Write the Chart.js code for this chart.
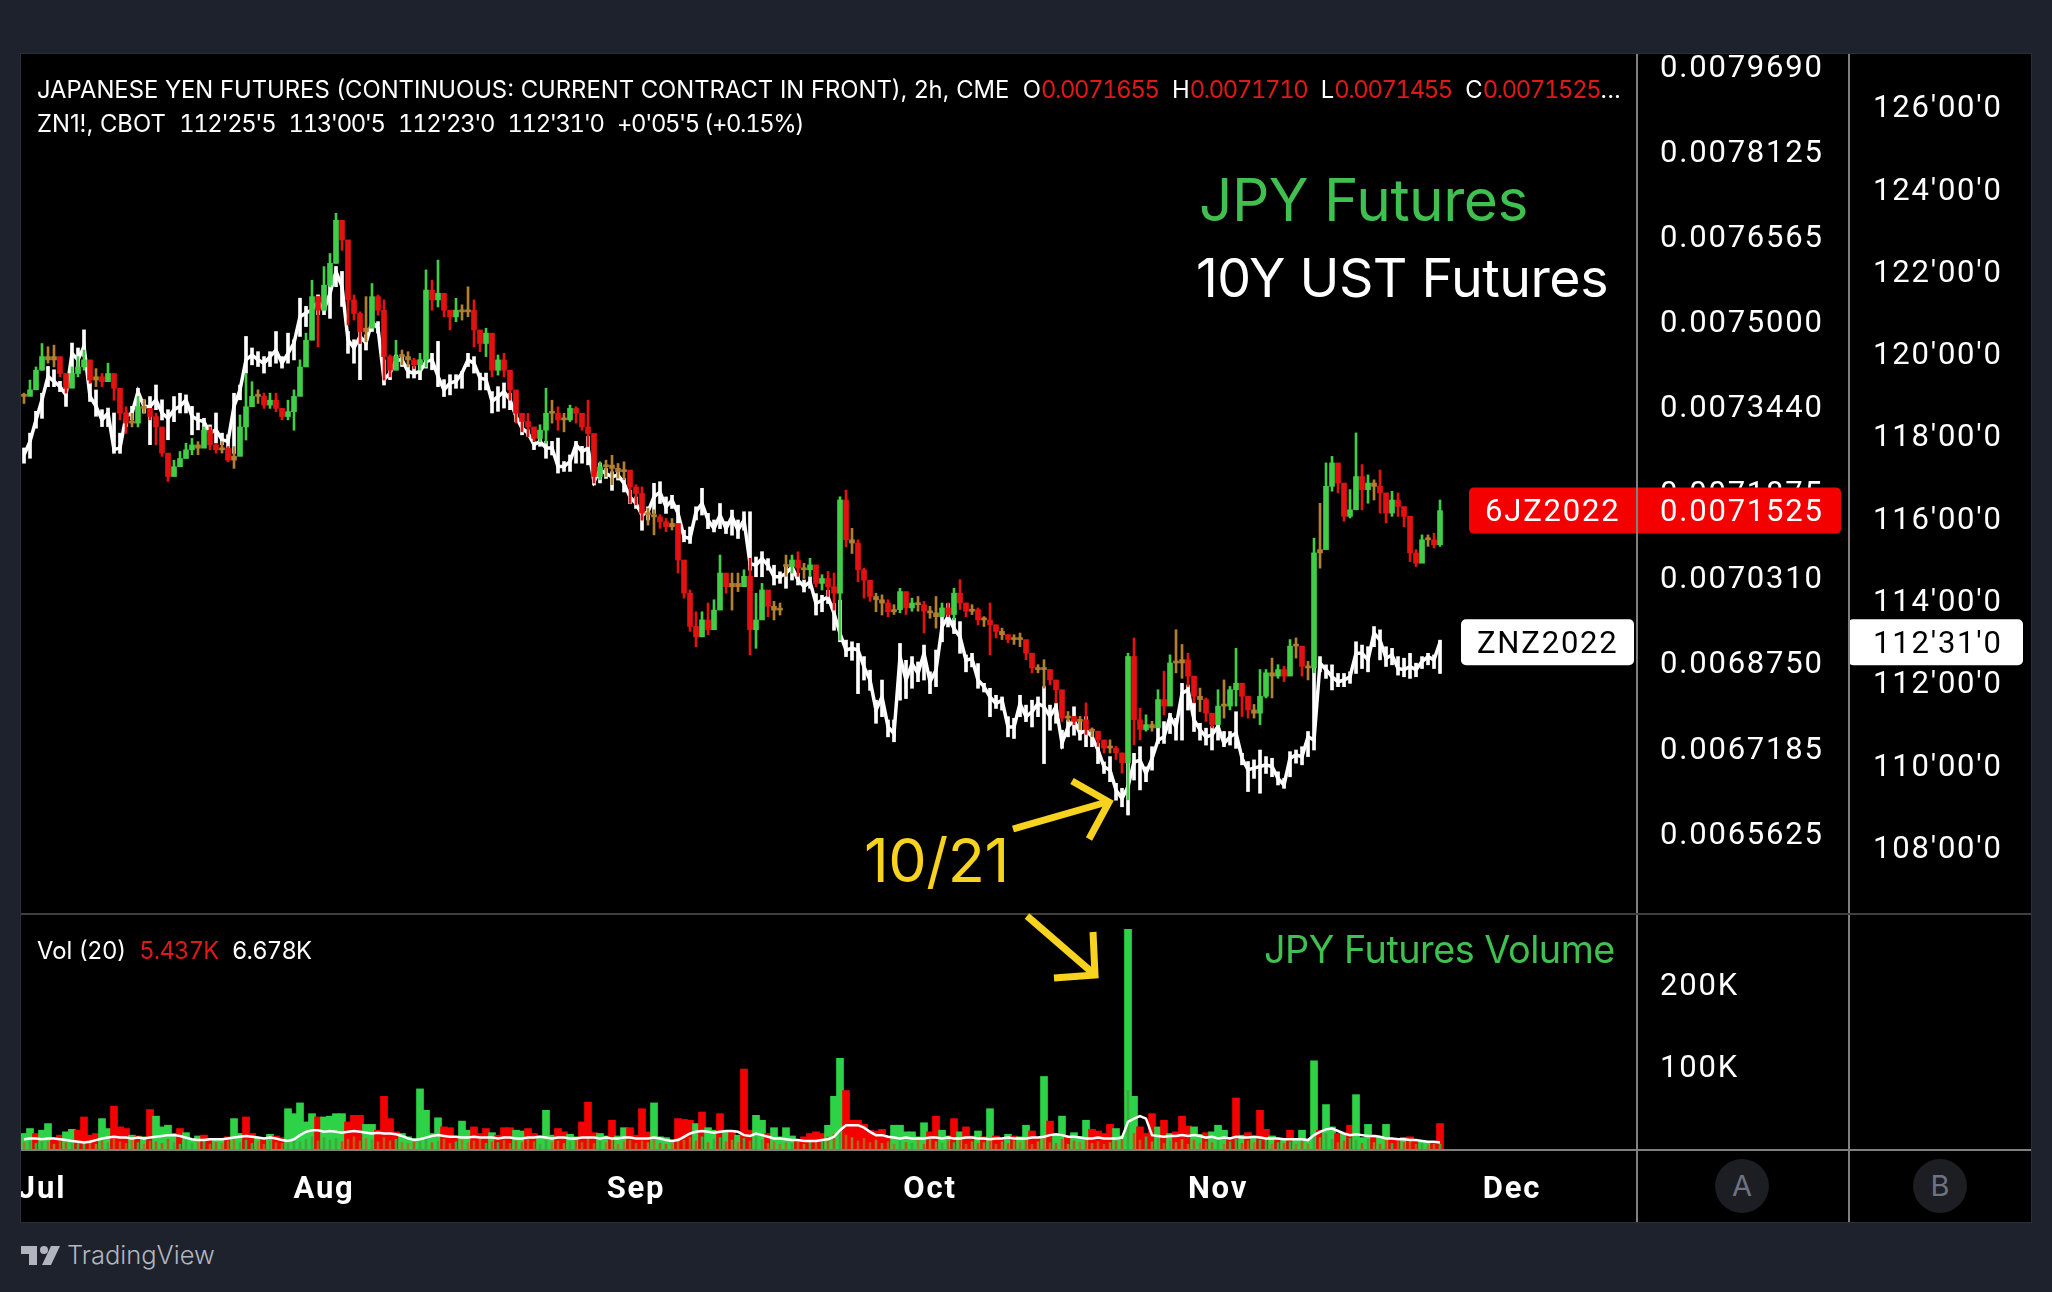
<!DOCTYPE html>
<html>
<head>
<meta charset="utf-8">
<title>JPY Futures vs 10Y UST Futures</title>
<script src="https://cdn.jsdelivr.net/npm/chart.js@4"></script>
<style>
html,body{margin:0;padding:0;background:#1e222d;width:2052px;height:1292px;overflow:hidden;font-family:Inter,Roboto,sans-serif;}
#panel{position:absolute;left:21px;top:54px;width:2010px;height:1168px;background:#000;outline:1px solid #2a2e39;}
canvas{position:absolute;left:21px;display:block;}
#mainChart{top:54px;}
#volChart{top:913px;}
.t{position:absolute;white-space:pre;line-height:1;color:#fff;transform:translateY(-50%);}
.n{font-variant-numeric:tabular-nums;letter-spacing:-1.35px;}
.v{font-variant-numeric:tabular-nums;letter-spacing:-0.8px;}
.r{color:#e01818;}
.big{letter-spacing:-0.5px;}
.g{color:#3fc04f;}
.circle{position:absolute;width:54px;height:54px;border-radius:50%;background:#1c1e24;color:#6f7280;font-size:29px;line-height:54px;text-align:center;}
svg{position:absolute;left:0;top:0;}
</style>
</head>
<body>
<div id="panel"></div>
<canvas id="mainChart" width="2010" height="859"></canvas>
<canvas id="volChart" width="2010" height="309"></canvas>

<div class="t" style="left:37px;top:90px;font-size:23.8px;">JAPANESE YEN FUTURES (CONTINUOUS: CURRENT CONTRACT IN FRONT), 2h, CME  O<span class="r n">0.0071655</span>  H<span class="r n">0.0071710</span>  L<span class="r n">0.0071455</span>  C<span class="r n">0.0071525</span>...</div>
<div class="t" style="left:37px;top:124px;font-size:23.8px;">ZN1!, CBOT  <span class="n">112'25'5</span>  <span class="n">113'00'5</span>  <span class="n">112'23'0</span>  <span class="n">112'31'0</span>  <span class="n">+0'05'5 (+0.15%)</span></div>
<div class="t big g" style="left:1199px;top:200px;font-size:58.6px;">JPY Futures</div>
<div class="t big" style="left:1196px;top:278px;font-size:53.7px;">10Y UST Futures</div>
<div class="t big" style="left:864px;top:860px;font-size:61px;color:#f7d21e;">10/21</div>
<div class="t" style="left:37px;top:951px;font-size:23.8px;">Vol (20)  <span class="r v">5.437K</span>  <span class="v">6.678K</span></div>
<div class="t big g" style="left:1264px;top:950px;font-size:37.8px;">JPY Futures Volume</div>
<div class="t" style="left:67px;top:1255px;font-size:25.5px;color:#b2b5be;font-weight:300;">TradingView</div>
<div class="circle" style="left:1715px;top:1159px;">A</div>
<div class="circle" style="left:1913px;top:1159px;">B</div>

<svg width="2052" height="1292" fill="none">
  <g stroke="#f7d21e" stroke-width="7">
    <path d="M1013 829L1107 802"/>
    <path d="M1072 781L1109 802L1089 839"/>
    <path d="M1027 916L1094 974"/>
    <path d="M1093 932L1095 975L1054 978"/>
  </g>
  <g fill="#b2b5be" transform="translate(21,1246)">
    <path d="M0 0H16V19H8V8H0Z"/>
    <circle cx="23" cy="4" r="4"/>
    <path d="M30 0H39L30 19H21Z"/>
  </g>
</svg>

<script>
// JPY futures, in millionths of a dollar per yen, one value per bar
const jpyClose = [
7362,7374,7410,7435,7429,7435,7404,7377,7404,7416,7429,7392,7398,7389,7404,7377,7331,7313,7313,7343,
7340,7325,7306,7258,7215,7233,7248,7264,7273,7267,7300,7273,7264,7267,7245,7252,7306,7343,7362,7362,
7346,7355,7340,7325,7334,7362,7416,7465,7545,7520,7566,7606,7685,7649,7539,7514,7481,7487,7545,7520,
7435,7410,7435,7435,7429,7420,7429,7557,7539,7551,7520,7508,7520,7517,7520,7484,7459,7478,7410,7429,
7410,7374,7331,7316,7306,7285,7300,7331,7331,7319,7319,7340,7331,7306,7294,7215,7233,7236,7230,7224,
7227,7196,7184,7148,7145,7141,7132,7123,7129,7062,7001,6940,6921,6952,6934,6970,7038,7013,7019,7013,
7032,6934,6952,7007,6977,6970,6970,7050,7062,7047,7044,7053,7019,7028,7013,7001,7172,7099,7093,7044,
7025,6995,6989,6983,6967,6971,7004,6974,6983,6980,6968,6965,6958,6974,6962,7001,6983,6968,6971,6952,
6952,6943,6931,6925,6916,6919,6916,6891,6864,6861,6861,6842,6824,6772,6775,6766,6769,6751,6748,6732,
6717,6717,6708,6690,6885,6769,6751,6760,6754,6806,6794,6873,6873,6879,6849,6812,6806,6781,6760,6794,
6794,6824,6836,6812,6787,6781,6812,6855,6849,6861,6849,6904,6904,6867,6864,7075,7081,7197,7240,7203,
7142,7154,7215,7191,7203,7197,7185,7148,7172,7160,7142,7075,7056,7099,7099,7090,7152.5];
const jpyHigh = [
7368,7392,7416,7459,7453,7456,7429,7398,7416,7435,7447,7416,7413,7404,7423,7395,7368,7343,7331,7362,
7355,7337,7331,7300,7252,7245,7261,7276,7285,7279,7306,7306,7276,7279,7270,7270,7328,7404,7389,7374,
7368,7368,7368,7340,7355,7374,7429,7478,7575,7545,7600,7624,7698,7679,7630,7548,7517,7545,7569,7548,
7539,7438,7465,7447,7444,7432,7441,7594,7575,7612,7548,7520,7542,7530,7563,7539,7481,7487,7441,7438,
7441,7410,7362,7328,7331,7300,7310,7377,7355,7343,7331,7346,7343,7331,7355,7282,7242,7245,7254,7239,
7242,7215,7200,7196,7157,7154,7145,7138,7138,7120,7038,7007,6967,6967,6983,6989,7071,7032,7038,7038,
7044,7065,7001,7019,7001,6986,6983,7071,7071,7077,7056,7065,7050,7035,7041,7038,7178,7190,7120,7099,
7047,7019,7001,6998,6989,6980,7010,6998,6992,6995,6986,6977,6995,6983,6983,7010,7026,6983,6980,6974,
6958,6983,6943,6937,6925,6925,6928,6913,6891,6870,6879,6861,6839,6806,6784,6775,6775,6800,6754,6748,
6726,6732,6720,6708,6891,6919,6790,6778,6766,6824,6858,6888,6934,6907,6891,6839,6827,6809,6778,6824,
6842,6830,6900,6833,6812,6797,6861,6861,6882,6870,6867,6916,6919,6904,6876,7102,7166,7240,7252,7227,
7191,7191,7295,7237,7218,7209,7227,7178,7188,7185,7157,7111,7081,7108,7108,7111,7172];
const jpyLow = [
7349,7368,7398,7410,7423,7416,7398,7368,7383,7398,7410,7386,7380,7380,7392,7355,7319,7294,7306,7306,
7331,7319,7273,7252,7206,7218,7233,7252,7255,7255,7270,7264,7258,7258,7242,7230,7276,7282,7349,7349,
7340,7340,7334,7319,7319,7300,7392,7450,7511,7453,7520,7563,7606,7630,7493,7502,7459,7462,7514,7511,
7392,7398,7416,7420,7416,7413,7410,7416,7520,7526,7508,7484,7499,7502,7508,7453,7444,7435,7398,7401,
7398,7355,7313,7297,7288,7279,7279,7276,7313,7300,7297,7316,7313,7300,7270,7203,7209,7215,7200,7212,
7209,7166,7163,7135,7126,7108,7120,7114,7117,7038,6992,6931,6903,6921,6925,6943,7007,7001,6970,7004,
7019,6888,6900,6970,6958,6952,6961,7032,7038,7032,7028,7032,7013,7007,6995,6970,6915,7086,7074,7022,
6992,6986,6967,6961,6958,6962,6965,6962,6968,6968,6928,6955,6937,6958,6958,6952,6971,6958,6962,6943,
6940,6888,6919,6916,6910,6907,6903,6879,6855,6855,6827,6833,6800,6766,6766,6760,6751,6742,6738,6720,
6708,6708,6696,6671,6622,6723,6732,6748,6748,6778,6778,6861,6855,6845,6830,6800,6784,6766,6754,6769,
6772,6787,6794,6775,6772,6772,6760,6809,6809,6845,6839,6873,6882,6849,6842,6855,7047,7087,7188,7185,
7133,7139,7172,7154,7166,7172,7148,7130,7142,7142,7123,7059,7050,7062,7087,7084,7087];
const jpyGapBars = [127];

// 10Y note futures, in hundredths of a point, one value per bar
const znClose = [
11752,11785,11837,11886,11943,11931,11918,11898,11999,11983,12016,11894,11870,11837,11854,11765,11769,11846,11854,11906,
11870,11870,11886,11854,11841,11862,11870,11886,11846,11837,11833,11805,11813,11789,11785,11870,11910,11983,11995,11983,
11975,11991,12007,11975,11999,12024,12088,12097,12105,12125,12105,12145,12198,12161,12032,12012,12040,12024,12076,12060,
11935,11951,11983,11983,11955,11951,11955,11979,11983,11943,11910,11927,11931,11951,11983,11975,11939,11935,11882,11894,
11906,11886,11846,11817,11805,11777,11785,11769,11769,11724,11724,11736,11777,11760,11769,11688,11716,11707,11699,11703,
11683,11650,11634,11606,11614,11650,11662,11626,11642,11610,11553,11549,11614,11634,11594,11573,11606,11573,11602,11569,
11594,11488,11484,11500,11484,11456,11456,11464,11480,11448,11432,11444,11391,11399,11407,11367,11318,11278,11282,11278,
11237,11205,11132,11164,11091,11075,11262,11205,11245,11221,11270,11201,11229,11334,11359,11330,11310,11253,11257,11205,
11189,11164,11148,11156,11091,11091,11148,11116,11128,11148,11140,11116,11140,11051,11091,11108,11075,11083,11067,11035,
10994,10986,10938,10917,10946,11006,11010,10978,11014,11059,11067,11116,11091,11173,11181,11108,11084,11067,11072,11092,
11051,11067,11076,11015,10987,10991,10995,10999,10995,10966,10950,11015,11023,11019,11067,11059,11246,11230,11213,11201,
11205,11213,11270,11270,11254,11319,11302,11258,11266,11233,11230,11238,11230,11250,11262,11254,11297];
const znHigh = [
11769,11805,11858,11902,11967,11959,11931,11914,12024,12012,12056,11927,11910,11862,11866,11854,11805,11854,11870,11914,
11886,11894,11922,11886,11862,11894,11902,11898,11870,11854,11841,11825,11854,11805,11801,11902,11922,12040,12012,12003,
11991,12003,12052,11991,12048,12032,12133,12113,12129,12141,12121,12165,12210,12198,12052,12032,12052,12044,12093,12076,
11983,11967,11995,11995,11971,11967,11983,11995,11999,12028,11935,11947,11947,11955,11999,11991,11951,11951,11906,11918,
11927,11902,11870,11837,11813,11785,11793,11785,11785,11793,11736,11752,11785,11773,11797,11724,11732,11719,11711,11715,
11695,11666,11650,11626,11626,11683,11687,11650,11654,11630,11569,11577,11626,11671,11610,11594,11634,11590,11618,11594,
11614,11614,11504,11517,11500,11484,11468,11484,11488,11464,11448,11456,11415,11411,11423,11391,11399,11302,11298,11294,
11262,11229,11156,11205,11108,11108,11294,11253,11262,11249,11290,11225,11278,11359,11391,11355,11347,11266,11270,11245,
11197,11185,11168,11164,11116,11112,11168,11144,11156,11164,11189,11144,11148,11083,11108,11140,11108,11116,11083,11051,
11006,11019,10954,10942,11010,11027,11043,10994,11043,11091,11104,11124,11112,11197,11193,11149,11100,11088,11092,11124,
11080,11080,11128,11027,11007,11011,11035,11019,11015,10982,10966,11031,11035,11043,11080,11262,11262,11242,11242,11221,
11221,11225,11298,11290,11286,11335,11327,11286,11282,11262,11258,11270,11246,11262,11270,11266,11302];
const znLow = [
11732,11744,11817,11841,11918,11918,11906,11870,11935,11959,11991,11882,11846,11821,11821,11756,11756,11821,11837,11846,
11854,11777,11862,11837,11789,11833,11854,11854,11801,11813,11805,11789,11781,11777,11769,11756,11886,11951,11971,11967,
11951,11967,11975,11963,11975,11983,12040,12064,12068,12093,12093,12084,12161,12113,11999,11975,11935,12007,12052,12048,
11922,11935,11959,11967,11939,11939,11935,11963,11959,11918,11894,11898,11914,11914,11967,11951,11910,11910,11854,11858,
11866,11862,11833,11801,11797,11765,11773,11744,11752,11708,11712,11712,11732,11732,11728,11679,11684,11695,11666,11691,
11662,11634,11622,11569,11594,11610,11634,11610,11622,11569,11541,11537,11594,11606,11573,11565,11573,11561,11557,11549,
11569,11472,11456,11456,11472,11436,11440,11428,11448,11436,11419,11428,11363,11371,11391,11326,11298,11262,11253,11172,
11205,11180,11100,11116,11067,11055,11156,11160,11185,11201,11205,11172,11189,11298,11334,11318,11270,11225,11237,11185,
11176,11116,11136,11132,11067,11063,11116,11104,11091,11116,11002,11083,11100,11039,11067,11071,11059,11043,11043,11002,
10978,10958,10913,10897,10877,10962,10938,10958,10986,11051,11051,11075,11059,11059,11132,11080,11059,11047,11035,11059,
11043,11047,11039,10999,10934,10966,10930,10978,10970,10950,10942,10970,11003,10999,11019,11035,11225,11209,11181,11189,
11189,11197,11221,11233,11225,11286,11254,11238,11242,11217,11213,11209,11213,11233,11242,11233,11221];

// volume in thousands
const volK = [
20,26,20,24,32,12,18,22,25,24,40,18,20,38,26,53,28,26,18,17,
16,49,41,28,30,20,26,21,12,17,18,14,12,13,16,38,20,40,20,15,
14,19,17,15,50,44,57,34,44,40,40,41,44,44,34,42,42,31,31,24,
65,38,22,20,16,14,74,48,20,39,28,27,14,35,24,28,20,26,21,18,
27,27,24,23,26,20,17,48,18,26,22,19,16,34,58,21,20,17,36,17,
27,27,18,50,22,57,16,15,12,38,37,36,32,46,27,24,44,22,23,18,
98,24,42,36,20,27,16,27,17,12,16,20,22,20,30,65,111,72,36,36,
31,24,23,25,17,30,30,22,22,16,33,22,41,24,17,38,22,28,17,23,
16,50,17,14,19,17,16,30,23,14,89,35,18,41,16,21,16,36,25,23,
20,31,26,17,267,65,28,20,44,28,36,20,22,41,29,28,19,21,22,30,
24,15,63,18,21,15,48,25,17,14,13,24,14,24,12,108,24,55,28,20,
20,30,67,15,31,18,15,31,14,14,15,16,12,11,10,9,32];
const volSide = (
"ggrggrrggrrrrggrrrgr"+"grggggrgggrrggrggrrg"+"rgrrgggggrggggrrrggr"+"rrrgggggggrrrggrrrgr"+
"rrggrrgggrrggrrrggrg"+"grrrrggggrrrgrggrgrg"+"rrggrggggrrrrrgggrrr"+"rrrrrggggggrrggrgrrg"+
"rgrrgrggrrgrggrgggrr"+"rrggggrrrgrgrrrggrgg"+"grrgrgrrgrgrggggrggr"+"grgggrggrrgrrggrrgg").split("");
const volLow = [
9,11,8,12,10,7,11,9,13,8,10,12,7,11,9,13,10,8,12,9,
7,11,10,8,13,9,7,12,8,10,11,7,9,8,11,13,9,12,8,10,
7,11,9,8,12,14,10,13,16,11,15,12,14,10,13,16,11,14,12,10,
15,11,13,9,8,10,12,14,9,11,13,8,10,12,9,11,13,8,10,9,
12,8,11,9,13,10,7,12,9,11,8,10,12,9,14,8,11,9,13,7,
10,12,8,11,9,13,8,7,9,14,12,15,11,16,9,13,15,10,12,9,
14,11,16,12,8,10,7,9,8,11,7,10,9,13,16,19,24,18,15,11,
14,9,12,8,10,7,11,9,8,12,7,13,10,8,11,9,12,7,10,8,
9,13,7,10,8,11,9,12,7,10,16,9,8,13,7,11,9,12,8,10,
7,9,11,13,72,20,12,16,10,14,8,11,9,13,7,12,8,10,9,14,
7,10,13,8,11,9,12,14,7,9,8,10,7,11,7,18,15,20,13,9,
11,14,12,8,13,9,7,12,8,10,9,11,7,8,6,7,7];
const volMa = [
13,14,14,13,14,14,13,12,11,10,9,10,12,14,15,16,15,15,14,15,
14,15,16,17,18,18,17,15,13,12,12,13,13,13,14,15,16,17,16,15,
14,15,14,12,11,13,18,22,24,24,22,23,22,21,22,23,22,21,20,21,
20,20,19,17,14,12,13,15,17,18,17,16,16,15,15,16,15,15,15,14,
15,15,14,14,15,15,16,15,14,15,15,14,14,15,15,15,14,15,14,14,
15,15,14,14,14,15,14,12,11,12,16,20,22,23,22,21,22,23,23,22,
18,17,20,18,16,14,14,13,12,12,11,11,11,12,13,16,24,30,30,30,
27,22,18,18,16,15,14,15,14,14,14,15,15,14,15,14,14,15,15,14,
14,13,14,14,15,14,14,14,15,15,16,18,19,18,16,16,15,14,14,15,
14,14,14,15,34,38,41,38,18,17,16,17,17,18,17,18,17,15,16,14,
15,14,16,15,15,16,15,14,14,14,13,13,13,13,12,18,22,25,26,23,
20,18,19,18,17,17,16,14,14,13,13,12,12,11,10,10,9];

// axes
const jpyTicks = [0.007969,0.0078125,0.0076565,0.0075,0.007344,0.0071875,0.007031,0.006875,0.0067185,0.0065625];
const znTicks = [126,124,122,120,118,116,114,112,110,108];
const volTicks = [100,200];
const monthLabels = ["Jul","Aug","Sep","Oct","Nov","Dec"];
const monthBars = [3,50,102,151,199,248];

const GREEN = "rgb(66,205,72)", RED = "rgb(226,18,18)", OLIVE = "rgb(176,128,48)";
const xRange = {min:-0.5, max:268.83};
const TICK_FONT = {family:"Roboto, sans-serif", size:31};

Chart.defaults.animation = false;
Chart.defaults.devicePixelRatio = 1;

function znLabel(v){
    const whole = Math.floor(v);
    const t32 = (v-whole)*32;
    const n = Math.floor(t32+1e-6);
    return whole+"'"+String(n).padStart(2,"0")+"'"+Math.round((t32-n)*10);
}

const jpyOpen = jpyClose.map((c,i)=>{
    if(i===0 || jpyGapBars.includes(i)) return c;
    return jpyClose[i-1];
});
const candleColor = jpyClose.map((c,i)=>{
    if(Math.abs(c-jpyOpen[i])<9) return OLIVE;
    return c>=jpyOpen[i] ? GREEN : RED;
});

function noPad(width,height){
    return (s)=>{
        if(width) s.width = width;
        if(height) s.height = height;
        s.paddingTop = s.paddingBottom = s.paddingLeft = s.paddingRight = 0;
    };
}
// labels sit a little below their exact level in the original, dropPx moves them
function fixedTicks(list,dropPx,paneHeight){
    return (s)=>{
        const d = dropPx ? dropPx*(s.max-s.min)/paneHeight : 0;
        s.ticks = list.map(v=>({value:v-d}));
    };
}

// wider figures on the scales, like the tabular digits of the original
const spacedText = {
    id:"spacedText",
    beforeDraw(chart){ chart.ctx.letterSpacing = "1.8px"; }
};

// the two vertical rules of the price scales and the pane rules
const paneRules = {
    id:"paneRules",
    afterDraw(chart,args,opts){
        const c = chart.ctx, a = chart.chartArea;
        c.save();
        c.strokeStyle = "#808080";
        c.lineWidth = 2;
        [a.right, a.right+212].forEach(x=>{
            c.beginPath(); c.moveTo(x,0); c.lineTo(x,chart.height); c.stroke();
        });
        if(opts.bottomRule){
            c.beginPath(); c.moveTo(0,a.bottom); c.lineTo(chart.width,a.bottom); c.stroke();
            c.strokeStyle = "#3f3f3f";
            c.beginPath(); c.moveTo(0,1); c.lineTo(chart.width,1); c.stroke();
        }
        c.restore();
    }
};

// last price tags, placed through the scales
const priceTags = {
    id:"priceTags",
    afterDatasetsDraw(chart){
        const c = chart.ctx, a = chart.chartArea;
        const tag = (x,w,y,bg)=>{
            c.fillStyle = bg;
            c.beginPath(); c.roundRect(x,y-23,w,46,5); c.fill();
        };
        const text = (s,x,y,col)=>{
            c.fillStyle = col; c.textAlign = "left"; c.textBaseline = "middle";
            c.font = "31px Roboto, sans-serif";
            c.fillText(s,x,y+3);
        };
        c.save();
        const lastJpy = jpyClose[jpyClose.length-1]/1e6;
        const yJ = chart.scales.yJpy.getPixelForValue(lastJpy);
        tag(a.right-168,372,yJ,"#f40000");
        text("6JZ2022",a.right-152,yJ,"#fff");
        text(lastJpy.toFixed(7),a.right+23,yJ,"#fff");
        const last = znClose[znClose.length-1]/100;
        const yZ = chart.scales.yZn.getPixelForValue(last);
        tag(a.right-176,173,yZ,"#fff");
        text("ZNZ2022",a.right-160,yZ,"#000");
        tag(a.right+211,175,yZ,"#fff");
        text(znLabel(112+31/32),a.right+236,yZ,"#000");
        c.restore();
    }
};

const bars = jpyClose.map((v,i)=>i);

new Chart(document.getElementById("mainChart"),{
    type:"bar",
    data:{datasets:[
        {type:"bar", order:1, xAxisID:"x", yAxisID:"yJpy", grouped:false, barThickness:5, minBarLength:2, borderSkipped:false,
         data:bars.map(i=>({x:i,y:[jpyOpen[i]/1e6,jpyClose[i]/1e6]})), backgroundColor:candleColor},
        {type:"bar", order:2, xAxisID:"x", yAxisID:"yJpy", grouped:false, barThickness:2, borderSkipped:false,
         data:bars.map(i=>({x:i,y:[jpyLow[i]/1e6,jpyHigh[i]/1e6]})), backgroundColor:candleColor},
        {type:"bar", order:3, xAxisID:"x", yAxisID:"yZn", grouped:false, barThickness:3, borderSkipped:false,
         data:bars.map(i=>({x:i,y:[znLow[i]/100,znHigh[i]/100]})), backgroundColor:"#fff"},
        {type:"line", order:4, xAxisID:"x", yAxisID:"yZn", borderColor:"#fff", borderWidth:3.5, pointRadius:0, tension:0,
         data:bars.map(i=>({x:i,y:znClose[i]/100}))}
    ]},
    options:{
        responsive:false,
        layout:{padding:0},
        plugins:{legend:{display:false},tooltip:{enabled:false},paneRules:{bottomRule:false}},
        scales:{
            x:{type:"linear",display:false,min:xRange.min,max:xRange.max,offset:false,grid:{display:false}},
            yJpy:{position:"right",weight:1,min:0.0064145,max:0.00799,
                grid:{display:false,drawTicks:false},border:{display:false},
                ticks:{color:"#fff",font:TICK_FONT,padding:23,autoSkip:false,callback:(v,idx)=>jpyTicks[idx].toFixed(7)},
                afterBuildTicks:fixedTicks(jpyTicks,3.5,859),afterFit:noPad(212)},
            yZn:{position:"right",weight:2,min:106.389,max:127.264,
                grid:{display:false,drawTicks:false},border:{display:false},
                ticks:{color:"#fff",font:TICK_FONT,padding:24,autoSkip:false,callback:(v,idx)=>znLabel(znTicks[idx])},
                afterBuildTicks:fixedTicks(znTicks,3.5,859),afterFit:noPad(182)}
        }
    },
    plugins:[spacedText,paneRules,priceTags]
});

new Chart(document.getElementById("volChart"),{
    type:"bar",
    data:{datasets:[
        {type:"line", order:1, xAxisID:"x", yAxisID:"yVol", borderColor:"#fff", borderWidth:2.5, pointRadius:0, tension:0,
         data:bars.map(i=>({x:i,y:volMa[i]}))},
        {type:"bar", order:2, xAxisID:"x", yAxisID:"yVol", grouped:false, barThickness:2,
         data:bars.map(i=>({x:i,y:volLow[i]})),
         backgroundColor:candleColor.map(c=>c===RED?"rgb(190,90,20)":c===GREEN?"rgb(60,170,60)":"rgb(170,120,30)")},
        {type:"bar", order:3, xAxisID:"x", yAxisID:"yVol", grouped:false, barThickness:7,
         data:bars.map(i=>({x:i,y:volK[i]})),
         backgroundColor:volSide.map(s=>s==="g"?"rgb(46,210,70)":"rgb(244,0,0)")}
    ]},
    options:{
        responsive:false,
        layout:{padding:0},
        plugins:{legend:{display:false},tooltip:{enabled:false},paneRules:{bottomRule:true}},
        scales:{
            x:{type:"linear",position:"bottom",min:xRange.min,max:xRange.max,offset:false,
                grid:{display:false,drawTicks:false},border:{display:false},
                ticks:{color:"#fff",font:{family:"Roboto, sans-serif",size:31,weight:"700"},padding:22,autoSkip:false,maxRotation:0,
                    callback:(v,idx)=>monthLabels[idx]},
                afterBuildTicks:fixedTicks(monthBars),afterFit:noPad(0,72)},
            yVol:{position:"right",weight:1,min:0,max:286.9,
                grid:{display:false,drawTicks:false},border:{display:false},
                ticks:{color:"#fff",font:TICK_FONT,padding:23,autoSkip:false,callback:(v,idx)=>volTicks[idx]+"K"},
                afterBuildTicks:fixedTicks(volTicks,2,237),afterFit:noPad(212)},
            yEmpty:{position:"right",weight:2,min:0,max:1,
                grid:{display:false,drawTicks:false},border:{display:false},
                ticks:{display:false},afterFit:noPad(182)}
        }
    },
    plugins:[spacedText,paneRules]
});
</script>
</body>
</html>
